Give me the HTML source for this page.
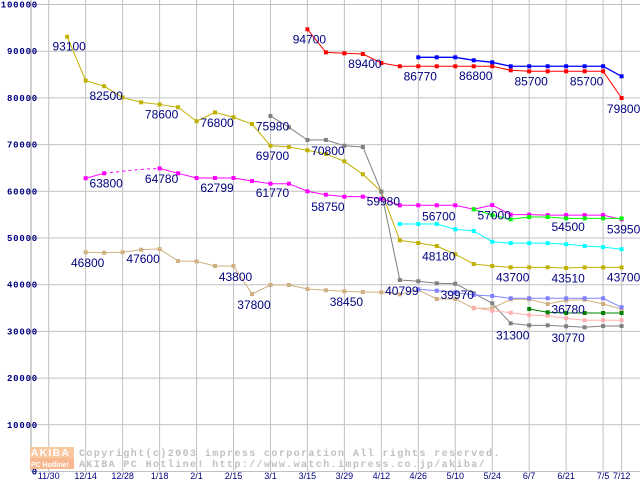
<!DOCTYPE html>
<html><head><meta charset="utf-8"><style>
body{margin:0;background:#fff;}
svg{display:block;font-family:"Liberation Sans",sans-serif;}
.lbl{font-size:12px;fill:#000080;}
.yt{font-size:9px;font-weight:bold;fill:#000080;font-family:"Liberation Mono",monospace;letter-spacing:0.8px;}
.xt{font-size:9px;fill:#000080;}
</style></head><body>
<svg id="chart" width="640" height="480">
<g id="grid"></g><g id="series"></g><g id="labels"></g>
<g>
<rect x="30" y="447" width="44" height="11" fill="#f8c8a0"/>
<text x="31" y="456" font-size="10" font-weight="bold" fill="#fff" letter-spacing="1.5">AKIBA</text>
<rect x="30" y="458" width="44" height="11" fill="#f8b890"/>
<text x="31" y="467" font-size="7" font-weight="bold" fill="#fff">PC Hotline!</text>
<text x="79" y="456" font-size="10" fill="#c0c0c0" font-family="Liberation Mono,monospace" font-weight="bold" letter-spacing="1.4">Copyright(c)2003 impress corporation All rights reserved.</text>
<text x="79" y="467" font-size="10" fill="#c0c0c0" font-family="Liberation Mono,monospace" font-weight="bold" letter-spacing="1.4">AKIBA PC Hotline!  http://www.watch.impress.co.jp/akiba/</text>
</g>
</svg>
<script>
const xTicks=["11/30","12/14","12/28","1/18","2/1","2/15","3/1","3/15","3/29","4/12","4/26","5/10","5/24","6/7","6/21","7/5","7/12"];
const xTickIdx=[0,2,4,6,8,10,12,14,16,18,20,22,24,26,28,30,31];
const yTicks=[0,10000,20000,30000,40000,50000,60000,70000,80000,90000,100000];
const olive=[null,93100,83700,82500,80100,79050,78600,78000,75000,76900,75850,74400,69760,69500,68780,68000,66420,63640,59920,49500,48930,48290,46510,44430,44000,43720,43720,43720,43580,43700,43700,43700];
const gray=[null,null,null,null,null,null,null,null,null,null,null,null,76130,73700,70990,71000,69760,69490,59920,41000,40730,40300,40210,38160,36020,31730,31300,31300,31090,30880,31150,31150];
const red=[null,null,null,null,null,null,null,null,null,null,null,null,null,null,94690,89760,89550,89400,87470,86770,86770,86770,86770,86770,86770,85910,85700,85700,85700,85700,85700,79980];
const blue=[null,null,null,null,null,null,null,null,null,null,null,null,null,null,null,null,null,null,null,null,88690,88690,88690,88050,87620,86770,86770,86770,86770,86770,86770,84620];
const magenta=[null,null,62800,63850,64300,64700,64900,63850,62850,62850,62850,62200,61630,61630,60000,59270,58850,58850,58400,57000,57000,57000,57000,56150,57050,55000,55000,54900,54900,54900,54900,54000];
const lime=[null,null,null,null,null,null,null,null,null,null,null,null,null,null,null,null,null,null,null,null,null,null,null,56150,54900,54000,54500,54500,54200,54200,54200,54200];
const cyan=[null,null,null,null,null,null,null,null,null,null,null,null,null,null,null,null,null,null,null,53000,53000,53000,51860,51500,49200,48900,48900,48900,48650,48300,48060,47600];
const tan=[null,null,46940,46850,46940,47500,47640,45070,45000,44000,44000,38000,39940,39940,39080,38800,38590,38450,38370,37940,38870,36940,36940,34950,34950,36870,36870,35870,36660,36780,35870,34800];
const peri=[null,null,null,null,null,null,null,null,null,null,null,null,null,null,null,null,null,null,null,null,39010,38720,38370,37800,37580,37090,37090,37090,37090,37090,37090,35160];
const pink=[null,null,null,null,null,null,null,null,null,null,null,null,null,null,null,null,null,null,null,null,null,null,null,35080,34430,34000,33510,33360,32800,32380,32380,32380];
const dgreen=[null,null,null,null,null,null,null,null,null,null,null,null,null,null,null,null,null,null,null,null,null,null,null,null,null,null,34800,34090,33940,33940,33940,33940];
const labelTexts=["93100","82500","78600","76800","75980","69700","70800","94700","89400","86770","86800","85700","85700","79800","63800","64780","62799","61770","58750","59980","56700","57000","54500","53950","48180","43700","43510","43700","46800","47600","43800","37800","38450","40799","39970","36780","31300","30770"];
const labelIdx=[1,3,6,9,12,12,15,14,17,20,23,26,29,31,3,6,9,12,15,18,21,24,28,31,21,25,28,31,2,5,10,11,16,19,22,28,25,28];
const labelVal=[93100,82500,78600,76800,75980,69700,70800,94700,89400,86770,86800,85700,85700,79800,63800,64780,62799,61770,58750,59980,56700,57000,54500,53950,48180,43700,43510,43700,46800,47600,43800,37800,38450,40799,39970,36780,31300,30770];
const NS="http://www.w3.org/2000/svg";
const X=i=>48.7+i*18.48;
const Y=v=>471.5-v*0.00467;
function mk(t,a,p){const e=document.createElementNS(NS,t);for(const k in a)e.setAttribute(k,a[k]);p.appendChild(e);return e;}
const grid=document.getElementById('grid');
yTicks.forEach(v=>{
 const l=mk('line',{x1:31,x2:640,y1:Y(v),y2:Y(v),stroke:'#c0c0c0'},grid);
 
 
 const t=mk('text',{x:38,y:Y(v)+3,'text-anchor':'end',class:'yt'},grid);t.textContent=String(v);
 
 
});
xTickIdx.forEach((i,k)=>{
 const l=mk('line',{x1:X(i),x2:X(i),y1:0,y2:471,stroke:'#c0c0c0'},grid);
 
 
 const t=mk('text',{x:X(i),y:479,'text-anchor':'middle',class:'xt'},grid);t.textContent=xTicks[k];
 
 
});
const ax=mk('line',{x1:31,x2:31,y1:0,y2:471,stroke:'#a0a0a0'},grid);


const sg=document.getElementById('series');
function series(arr,color,name,w){
 const g=mk('g',{},sg);
 
 
 for(let i=1;i<arr.length;i++){
  if(arr[i]==null||arr[i-1]==null)continue;
  const dash=(name==='magenta-series'&&i>=4&&i<=6)?'3,3':'none';
  mk('line',{x1:X(i-1),y1:Y(arr[i-1]),x2:X(i),y2:Y(arr[i]),stroke:color,'stroke-width':w||1,'stroke-dasharray':dash},g);
 }
 arr.forEach((v,i)=>{
  if(v==null)return;
  if(name==='magenta-series'&&(i===4||i===5))return;
  const r=mk('rect',{x:X(i)-2,y:Y(v)-2,width:4,height:4,fill:color},g);
  
  
 });
}
series(tan,'#d0b080','tan-series');
series(olive,'#c0b000','olive-series');
series(gray,'#808080','gray-series');
series(magenta,'#ff00ff','magenta-series');
series(cyan,'#00ffff','cyan-series');
series(lime,'#00ff00','lime-series');
series(peri,'#8080ff','periwinkle-series');
series(pink,'#ffb0b0','pink-series');
series(dgreen,'#008000','dark-green-series');
series(red,'#ff0000','red-series');
series(blue,'#0000ff','blue-series',1.3);
const lg=document.getElementById('labels');
labelTexts.forEach((s,k)=>{
 const t=mk('text',{x:X(labelIdx[k])+2,y:Y(labelVal[k])+14,class:'lbl','text-anchor':'middle'},lg);
 t.textContent=s;
 
 
});
</script>
</body></html>
